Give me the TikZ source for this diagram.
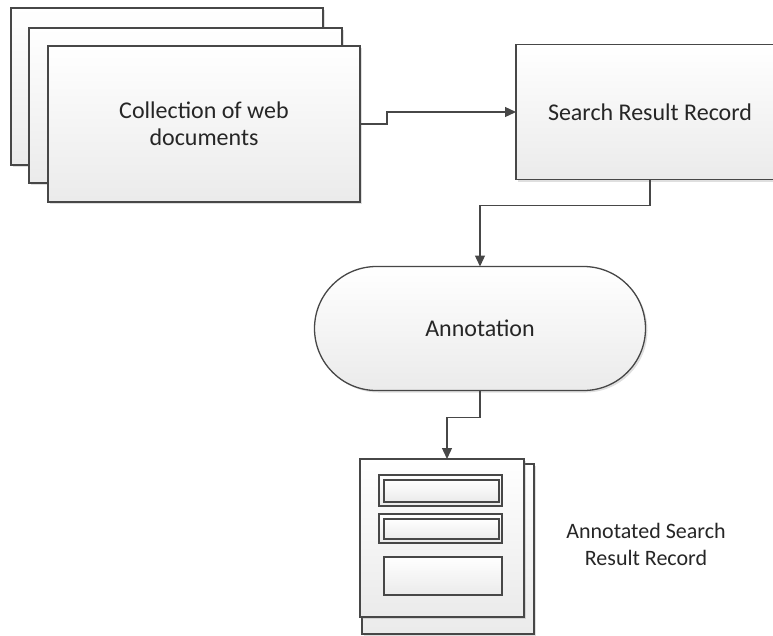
\documentclass[tikz,border=0pt]{standalone}
\usepackage{fontspec}
\setmainfont{Carlito}
\usetikzlibrary{arrows.meta,calc,shadows}
\definecolor{FlowInk}{gray}{0.28}
\definecolor{FlowText}{gray}{0.15}
\definecolor{FlowShade}{gray}{0.92}
\tikzset{
    flow/diagram/.style={
        x=1pt, y=-1pt,
        font=\fontsize{24}{27}\selectfont,
        text=FlowText,
        line width=1.3pt,
        line join=miter,
        every node/.style={inner sep=0pt, outer sep=0pt}
    },
    flow/box/.style={
        rectangle, draw=FlowInk, line width=1.3pt,
        top color=white, bottom color=FlowShade,
        drop shadow={shadow xshift=2pt, shadow yshift=-2pt,
            opacity=0.25, fill=gray},
        align=center
    },
    flow/terminal/.style={
        flow/box, rounded corners=62pt
    },
    flow/field/.style={
        rectangle, draw=FlowInk, line width=1.3pt,
        top color=white, bottom color=FlowShade
    },
    flow/link/.style={
        draw=FlowInk, line width=1.3pt,
        -{Triangle[length=11pt, width=10pt]}
    },
    flow/label/.style={
        align=center, font=\fontsize{22}{27}\selectfont
    }
}
\begin{document}
\begin{tikzpicture}[flow/diagram]
    \useasboundingbox (0,0) rectangle (773,635);
    % stacked web documents
    \node[flow/box, minimum width=312pt, minimum height=157pt]
        (docsC) at (167,86.5) {};
    \node[flow/box, minimum width=313pt, minimum height=155pt]
        (docsB) at (185.5,105.5) {};
    \node[flow/box, minimum width=312pt, minimum height=156pt]
        (docs) at (204,124) {Collection of web\\documents};
    % record box runs past the right edge
    \node[flow/box, minimum width=268pt, minimum height=135pt]
        (srr) at (650,112) {Search Result Record};
    \node[flow/terminal, minimum width=331pt, minimum height=124pt]
        (ann) at (480,328.5) {Annotation};
    % annotated record: two sheets with three fields
    \node[flow/box, minimum width=172pt, minimum height=170pt]
        (recB) at (448,549) {};
    \node[flow/box, minimum width=164pt, minimum height=158pt]
        (rec) at (442,538) {};
    \node[flow/field, minimum width=123pt, minimum height=31pt]
        (fieldA) at (440.5,490.5) {};
    \node[flow/field, minimum width=115pt, minimum height=22pt]
        (fieldAin) at (441.5,491) {};
    \node[flow/field, minimum width=123pt, minimum height=29pt]
        (fieldB) at (440.5,528.5) {};
    \node[flow/field, minimum width=115pt, minimum height=20pt]
        (fieldBin) at (441.5,529) {};
    \node[flow/field, minimum width=118pt, minimum height=38pt]
        (fieldC) at (443,576) {};
    \node[flow/label] (recLabel) at (646,544)
        {Annotated Search\\Result Record};
    % connectors
    \coordinate (jog) at (387,124);
    \draw[flow/link] (docs.east) -- (jog) |- (srr.west);
    \draw[flow/link] (srr.south) -- ++(0,26) -| (ann.north);
    \draw[flow/link] (ann.south) -- ++(0,27) -| ([xshift=5pt]rec.north);
\end{tikzpicture}
\end{document}
